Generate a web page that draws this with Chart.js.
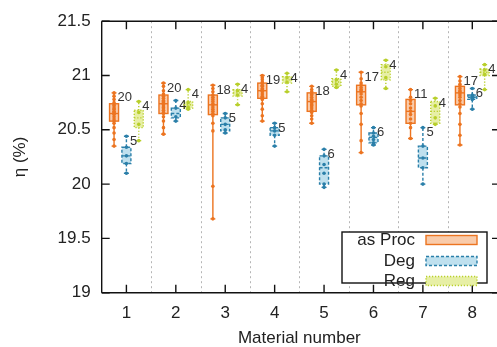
<!DOCTYPE html>
<html><head><meta charset="utf-8">
<script src="https://cdn.jsdelivr.net/npm/chart.js@4/dist/chart.umd.min.js"></script>
<style>html,body{margin:0;padding:0;background:#fff;overflow:hidden}</style>
</head><body>
<canvas id="c" width="497" height="347"></canvas>
<script>
// ---- data ----
const materials = [1, 2, 3, 4, 5, 6, 7, 8];
const seriesNames = ['as Proc', 'Deg', 'Reg'];
const yTicks = [19, 19.5, 20, 20.5, 21, 21.5];

const procMin = [20.35, 20.46, 19.68, 20.58, 20.56, 20.29, 20.42, 20.36];
const procQ1  = [20.58, 20.65, 20.64, 20.79, 20.67, 20.73, 20.56, 20.73];
const procMed = [20.65, 20.74, 20.73, 20.86, 20.76, 20.85, 20.67, 20.84];
const procQ3  = [20.74, 20.82, 20.82, 20.93, 20.84, 20.91, 20.78, 20.90];
const procMax = [20.84, 20.93, 20.91, 21.00, 20.90, 21.03, 20.87, 20.99];
const procN   = [20, 20, 18, 19, 18, 17, 11, 17];
const procPoints = [
  [20.84,20.81,20.78,20.75,20.73,20.72,20.70,20.69,20.67,20.66,20.65,20.64,20.62,20.60,20.58,20.56,20.52,20.47,20.41,20.35],
  [20.93,20.90,20.86,20.83,20.81,20.79,20.77,20.76,20.75,20.74,20.73,20.71,20.70,20.68,20.66,20.65,20.62,20.58,20.52,20.46],
  [20.91,20.88,20.85,20.82,20.80,20.78,20.76,20.74,20.73,20.71,20.69,20.67,20.65,20.63,20.56,20.49,19.98,19.68],
  [21.00,20.98,20.96,20.94,20.93,20.91,20.90,20.88,20.87,20.86,20.85,20.83,20.81,20.80,20.78,20.74,20.69,20.63,20.58],
  [20.90,20.87,20.85,20.83,20.82,20.80,20.78,20.77,20.76,20.75,20.73,20.72,20.70,20.68,20.66,20.63,20.60,20.56],
  [21.03,20.97,20.93,20.91,20.89,20.87,20.86,20.85,20.83,20.80,20.77,20.74,20.72,20.65,20.55,20.40,20.29],
  [20.87,20.80,20.77,20.74,20.70,20.67,20.64,20.60,20.56,20.52,20.42],
  [20.99,20.95,20.92,20.90,20.88,20.86,20.85,20.84,20.82,20.80,20.77,20.74,20.71,20.65,20.55,20.45,20.36]
];

const degMin = [20.10, 20.58, 20.47, 20.35, 19.97, 20.36, 20.00, 20.69];
const degQ1  = [20.19, 20.61, 20.49, 20.45, 20.00, 20.38, 20.15, 20.78];
const degMed = [20.26, 20.65, 20.55, 20.49, 20.15, 20.43, 20.24, 20.80];
const degQ3  = [20.34, 20.70, 20.61, 20.52, 20.26, 20.47, 20.35, 20.82];
const degMax = [20.44, 20.77, 20.65, 20.56, 20.32, 20.52, 20.52, 20.88];
const degN   = [5, 4, 5, 5, 6, 6, 5, 6];
const degPoints = [
  [20.44,20.34,20.26,20.19,20.10],
  [20.77,20.70,20.62,20.58],
  [20.65,20.61,20.55,20.50,20.47],
  [20.56,20.52,20.49,20.45,20.35],
  [20.32,20.26,20.18,20.10,20.00,19.97],
  [20.52,20.47,20.44,20.41,20.38,20.36],
  [20.52,20.35,20.24,20.15,20.00],
  [20.88,20.82,20.81,20.79,20.78,20.69]
];

const regMin = [20.40, 20.69, 20.73, 20.85, 20.89, 20.88, 20.55, 20.87];
const regQ1  = [20.52, 20.70, 20.81, 20.93, 20.90, 20.96, 20.56, 21.00];
const regMed = [20.61, 20.73, 20.84, 20.96, 20.94, 21.03, 20.67, 21.03];
const regQ3  = [20.68, 20.76, 20.87, 20.99, 20.97, 21.10, 20.76, 21.06];
const regMax = [20.76, 20.87, 20.92, 21.02, 21.05, 21.14, 20.79, 21.10];
const regN   = [4, 4, 4, 4, 4, 4, 4, 4];
const regPoints = [
  [20.76,20.66,20.55,20.40],
  [20.87,20.75,20.71,20.69],
  [20.92,20.86,20.82,20.73],
  [21.02,20.98,20.94,20.85],
  [21.05,20.96,20.92,20.89],
  [21.14,21.08,20.98,20.88],
  [20.79,20.72,20.61,20.55],
  [21.10,21.05,21.01,20.87]
];

// ---- styling ----
const stats = [
  {min: procMin, q1: procQ1, med: procMed, q3: procQ3, max: procMax, n: procN, pts: procPoints},
  {min: degMin,  q1: degQ1,  med: degMed,  q3: degQ3,  max: degMax,  n: degN,  pts: degPoints},
  {min: regMin,  q1: regQ1,  med: regMed,  q3: regQ3,  max: regMax,  n: regN,  pts: regPoints}
];
const offsets = [-0.25, 0, 0.25];
const colors = ['#ec7420', '#2a7fa9', '#b8cf2a'];
const fills = ['#f9cbaa', '#bfe0ee', '#e7efa6'];
const dashes = [[], [3, 2], [1.2, 1.8]];
const HALF = 4.5;
const TXT = '#222';
const FONT = "'Liberation Sans', Arial, sans-serif";

const boxPlugin = {
  id: 'boxes',
  beforeDatasetsDraw(chart) {
    const {ctx, chartArea: a, scales: {x, y}} = chart;
    ctx.save();
    ctx.strokeStyle = '#b5b5b5';
    ctx.lineWidth = 1;
    ctx.setLineDash([2, 3]);
    for (let i = 0; i < materials.length - 1; i++) {
      const px = Math.round(x.getPixelForValue((materials[i] + materials[i + 1]) / 2)) + 0.5;
      ctx.beginPath(); ctx.moveTo(px, a.top); ctx.lineTo(px, a.bottom); ctx.stroke();
    }
    stats.forEach((s, k) => {
      materials.forEach((m, i) => {
        const xc = x.getPixelForValue(m + offsets[k]);
        const yMin = y.getPixelForValue(s.min[i]), yMax = y.getPixelForValue(s.max[i]);
        const yQ1 = y.getPixelForValue(s.q1[i]), yQ3 = y.getPixelForValue(s.q3[i]);
        ctx.strokeStyle = colors[k];
        ctx.lineWidth = 1.4;
        ctx.setLineDash(dashes[k]);
        ctx.beginPath();
        ctx.moveTo(xc, yQ1); ctx.lineTo(xc, yMin);
        ctx.moveTo(xc, yQ3); ctx.lineTo(xc, yMax);
        ctx.stroke();
        ctx.setLineDash([]);
        ctx.beginPath();
        ctx.moveTo(xc - 2.5, yMin); ctx.lineTo(xc + 2.5, yMin);
        ctx.moveTo(xc - 2.5, yMax); ctx.lineTo(xc + 2.5, yMax);
        ctx.stroke();
        ctx.fillStyle = fills[k];
        ctx.fillRect(xc - HALF, yQ3, 2 * HALF, yQ1 - yQ3);
        ctx.setLineDash(dashes[k]);
        ctx.strokeRect(xc - HALF, yQ3, 2 * HALF, yQ1 - yQ3);
      });
    });
    ctx.restore();
  },
  afterDatasetsDraw(chart) {
    const {ctx, scales: {x, y}} = chart;
    ctx.save();
    stats.forEach((s, k) => {
      materials.forEach((m, i) => {
        const xc = x.getPixelForValue(m + offsets[k]);
        const yMed = y.getPixelForValue(s.med[i]);
        ctx.strokeStyle = colors[k];
        ctx.lineWidth = 1.4;
        ctx.setLineDash(dashes[k]);
        ctx.beginPath(); ctx.moveTo(xc - HALF, yMed); ctx.lineTo(xc + HALF, yMed); ctx.stroke();
        ctx.setLineDash([]);
        ctx.fillStyle = '#333';
        ctx.font = '13px ' + FONT;
        ctx.textAlign = 'left';
        ctx.textBaseline = 'middle';
        ctx.fillText(String(s.n[i]), xc + 3.5, y.getPixelForValue(s.max[i]) + 5);
      });
    });
    ctx.restore();
  },
  afterDraw(chart) {
    const {ctx, chartArea: a, scales: {x, y}} = chart;
    ctx.save();
    ctx.strokeStyle = '#111';
    ctx.lineWidth = 1.4;
    ctx.setLineDash([]);
    ctx.beginPath();
    ctx.moveTo(a.left, a.top); ctx.lineTo(a.right + 2, a.top);
    ctx.moveTo(a.left, a.top); ctx.lineTo(a.left, a.bottom);
    ctx.moveTo(a.left, a.bottom); ctx.lineTo(a.right + 2, a.bottom);
    ctx.stroke();
    const L = {x0: 342, y0: 232, x1: 487, y1: 283};
    ctx.fillStyle = '#fff';
    ctx.fillRect(L.x0, L.y0, L.x1 - L.x0, L.y1 - L.y0);
    ctx.strokeRect(L.x0, L.y0, L.x1 - L.x0, L.y1 - L.y0);
    ctx.beginPath();
    materials.forEach(m => {
      const px = x.getPixelForValue(m);
      ctx.moveTo(px, a.bottom); ctx.lineTo(px, a.bottom - 8);
      ctx.moveTo(px, a.top); ctx.lineTo(px, a.top + 8);
    });
    yTicks.forEach(v => {
      const py = y.getPixelForValue(v);
      ctx.moveTo(a.left, py); ctx.lineTo(a.left + 8, py);
      ctx.moveTo(a.right + 1, py); ctx.lineTo(a.right - 5, py);
    });
    ctx.stroke();
    const rows = [240, 261, 281];
    seriesNames.forEach((name, k) => {
      ctx.fillStyle = TXT;
      ctx.font = '17px ' + FONT;
      ctx.textAlign = 'right';
      ctx.textBaseline = 'middle';
      ctx.fillText(name, 415, rows[k]);
      ctx.fillStyle = fills[k];
      ctx.fillRect(426, rows[k] - 4.5, 51, 9);
      ctx.strokeStyle = colors[k];
      ctx.lineWidth = 1.4;
      ctx.setLineDash(dashes[k]);
      ctx.strokeRect(426, rows[k] - 4.5, 51, 9);
      ctx.setLineDash([]);
    });
    ctx.restore();
  }
};

const datasets = stats.map((s, k) => ({
  label: seriesNames[k],
  data: s.pts.flatMap((arr, i) => arr.map(v => ({x: materials[i] + offsets[k], y: v}))),
  pointRadius: 1.8,
  pointBackgroundColor: colors[k],
  pointBorderWidth: 0,
  showLine: false
}));

Chart.defaults.font.family = FONT;
new Chart(document.getElementById('c'), {
  type: 'scatter',
  data: {datasets},
  options: {
    responsive: false,
    animation: false,
    devicePixelRatio: 1,
    layout: {autoPadding: false, padding: {left: 0, top: 19, right: 0, bottom: 0}},
    plugins: {legend: {display: false}, tooltip: {enabled: false}},
    scales: {
      x: {
        type: 'linear', min: 0.5, max: 8.5,
        afterBuildTicks: s => { s.ticks = materials.map(v => ({value: v})); },
        afterFit: s => { s.height = 54.3; },
        grid: {display: false, drawTicks: false},
        border: {display: false},
        ticks: {color: TXT, font: {size: 17}, padding: 10, callback: v => String(v)},
        title: {display: true, text: 'Material number', color: TXT, font: {size: 17}, padding: {top: 4, bottom: -2}}
      },
      y: {
        min: 19, max: 21.5,
        afterBuildTicks: s => { s.ticks = yTicks.map(v => ({value: v})); },
        afterFit: s => { s.width = 101.7; },
        grid: {display: false, drawTicks: false},
        border: {display: false},
        ticks: {color: TXT, font: {size: 17}, padding: 11, callback: v => String(v)},
        title: {display: true, text: 'η (%)', color: TXT, font: {size: 17}, padding: {top: 10, bottom: 10}}
      }
    }
  },
  plugins: [boxPlugin]
});
</script>
</body></html>
